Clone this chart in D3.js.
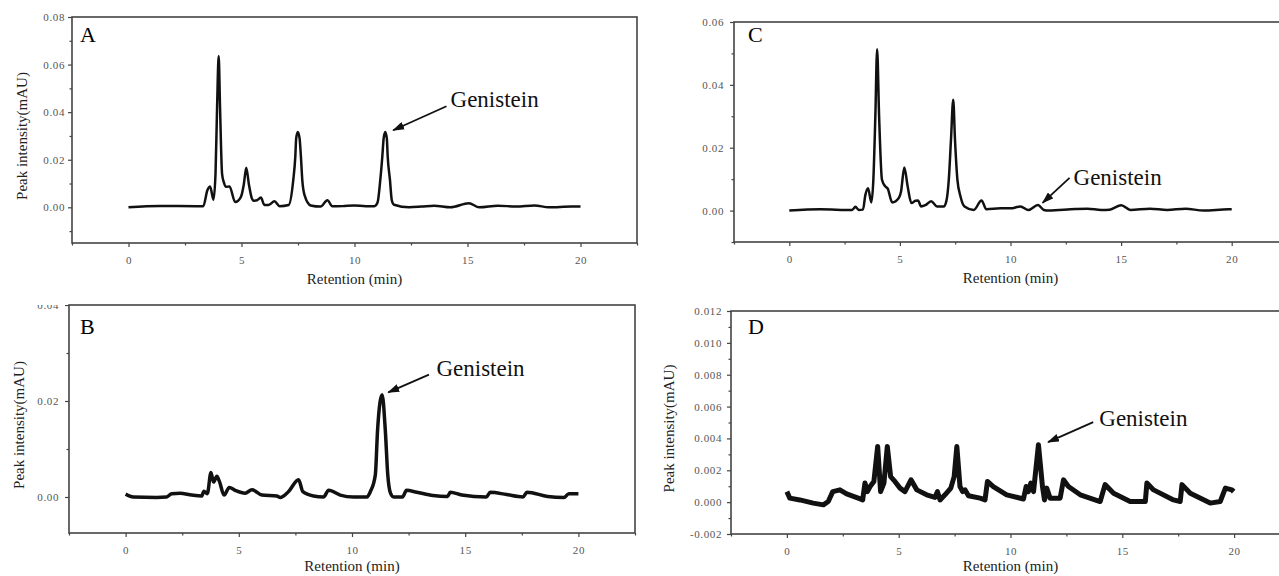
<!DOCTYPE html>
<html>
<head>
<meta charset="utf-8">
<script src="https://cdn.jsdelivr.net/npm/d3@7"></script>
<style>
  body { margin: 0; background: #fff; }
  svg text { font-family: 'Liberation Serif', 'Times New Roman', serif; }
</style>
</head>
<body>
<div id="chart"></div>
<script>
// retention time (min) and peak intensity (mAU)
const timeA = [0, 1.38, 3.01, 3.31, 3.49, 3.61, 3.76, 3.85, 3.92, 3.99, 4.05, 4.14, 4.22, 4.32, 4.47, 4.72, 4.97, 5.1, 5.21, 5.33, 5.45, 5.54, 5.69, 5.86, 6.01, 6.2, 6.46, 6.69, 7.09, 7.29, 7.38, 7.42, 7.49, 7.57, 7.63, 7.69, 7.79, 8.06, 8.5, 8.8, 9.02, 9.47, 9.99, 10.5, 10.88, 11.02, 11.14, 11.23, 11.29, 11.36, 11.43, 11.47, 11.57, 11.65, 11.75, 12.42, 12.97, 13.52, 14.25, 15.06, 15.52, 16.34, 17.15, 17.97, 18.6, 19.6, 20];
const peakA = [0, 0.0006, 0.0005, 0.0005, 0.0072, 0.0088, 0.0032, 0.0141, 0.0422, 0.0636, 0.0422, 0.0141, 0.0105, 0.0086, 0.0088, 0.0022, 0.0043, 0.0095, 0.0166, 0.0095, 0.004, 0.0028, 0.003, 0.0041, 0.001, 0.001, 0.0025, 0.0005, 0.001, 0.0114, 0.0212, 0.029, 0.0317, 0.029, 0.0212, 0.0114, 0.0051, 0.0008, 0.0003, 0.003, 0.0004, 0.0005, 0.0008, 0.0005, 0.0005, 0.002, 0.0114, 0.0212, 0.029, 0.0317, 0.029, 0.0212, 0.0114, 0.003, 0.0011, 0, 0.0003, 0.0007, 0, 0.0017, 0, 0.0007, 0.0003, 0.0008, 0, 0.0003, 0.0003];

const timeB = [0, 0.34, 1.37, 1.81, 2.04, 2.4, 2.92, 3.36, 3.46, 3.61, 3.77, 3.88, 4.03, 4.14, 4.35, 4.58, 4.84, 5.28, 5.58, 6.02, 6.68, 6.83, 7.19, 7.64, 7.83, 8.3, 8.74, 8.97, 9.48, 10.07, 10.66, 10.81, 11.03, 11.13, 11.33, 11.47, 11.58, 11.7, 11.84, 12.23, 12.41, 12.86, 13.58, 14.22, 14.34, 14.85, 15.93, 16.11, 16.83, 17.55, 17.73, 18.64, 19.36, 19.58, 20];
const peakB = [0.0006, 0, -0.0001, 0, 0.0007, 0.0008, 0.0004, 0.0002, 0.0012, 0.0007, 0.0051, 0.0031, 0.0043, 0.0033, 0.0004, 0.002, 0.0014, 0.0008, 0.0015, 0.0004, 0.0002, -0.0001, 0.0011, 0.0036, 0.0011, 0.0002, 0, 0.0014, 0.0004, 0, 0, 0.0011, 0.0046, 0.014, 0.0213, 0.014, 0.0046, 0.0008, 0, 0, 0.0014, 0.001, 0.0003, 0.0001, 0.001, 0.0004, 0, 0.001, 0.0005, 0, 0.001, 0.0001, -0.0001, 0.0007, 0.0007];

const timeC = [0, 1.4, 2.84, 2.99, 3.14, 3.33, 3.44, 3.56, 3.71, 3.8, 3.89, 3.97, 4.06, 4.19, 4.34, 4.45, 4.65, 4.95, 5.05, 5.2, 5.35, 5.52, 5.7, 5.82, 5.96, 6.15, 6.41, 6.68, 6.98, 7.1, 7.21, 7.31, 7.41, 7.49, 7.6, 7.74, 7.92, 8.34, 8.69, 8.91, 9.55, 10.0, 10.45, 10.81, 11.24, 11.51, 11.72, 12.93, 13.48, 14.1, 14.48, 15.01, 15.42, 16.31, 17.08, 17.91, 18.73, 19.85, 20];
const peakC = [0, 0.0004, 0.0002, 0.0012, 0.0002, 0.0003, 0.005, 0.0071, 0.0026, 0.0098, 0.03, 0.0513, 0.03, 0.0098, 0.0077, 0.007, 0.0026, 0.004, 0.006, 0.0137, 0.0077, 0.0024, 0.0031, 0.0032, 0.0013, 0.0017, 0.003, 0.0013, 0.0013, 0.003, 0.0098, 0.0226, 0.0353, 0.0226, 0.0098, 0.0045, 0.0013, 0.0002, 0.0032, 0.0004, 0.0007, 0.0007, 0.0013, 0.0002, 0.0018, 0.0002, 0, 0.0005, 0.0006, 0.0002, 0.0003, 0.0017, 0.0002, 0.0006, 0.0002, 0.0006, 0, 0.0004, 0.0004];

const timeD = [0, 0.13, 0.58, 1.18, 1.63, 1.85, 2.05, 2.37, 2.67, 3.19, 3.39, 3.49, 3.6, 3.72, 3.89, 4.06, 4.19, 4.34, 4.49, 4.64, 4.83, 5.06, 5.28, 5.55, 5.81, 6.25, 6.62, 6.73, 6.85, 7.07, 7.33, 7.48, 7.6, 7.74, 7.86, 7.97, 8.12, 8.64, 8.86, 8.97, 9.23, 9.83, 10.58, 10.7, 10.8, 10.91, 11.03, 11.25, 11.43, 11.52, 11.62, 11.77, 12.22, 12.37, 12.59, 13.12, 14.01, 14.23, 14.61, 15.35, 16.03, 16.1, 16.4, 17.29, 17.59, 17.67, 18.04, 18.93, 19.38, 19.61, 19.9, 19.98];
const peakD = [0.00066, 0.00025, 0.00014, -0.00006, -0.00017, 0.00004, 0.00066, 0.00077, 0.00052, 0.00025, 0.00014, 0.0012, 0.00066, 0.00098, 0.0013, 0.0035, 0.00066, 0.0012, 0.0035, 0.0016, 0.0013, 0.00088, 0.00066, 0.0014, 0.00077, 0.00046, 0.0003, 0.00066, 0.00014, 0.00046, 0.00088, 0.0016, 0.0035, 0.00098, 0.00066, 0.00077, 0.0004, 0.00025, 0.00014, 0.0013, 0.00098, 0.00046, 0.0002, 0.00098, 0.00066, 0.0012, 0.00066, 0.0036, 0.00098, 0.00014, 0.00088, 0.00025, 0.00025, 0.0014, 0.00098, 0.00046, 0.00004, 0.0011, 0.00056, 0.00004, 0.00004, 0.0012, 0.00077, 0.00014, 0.00004, 0.0011, 0.00056, -0.00006, 0.00004, 0.00088, 0.00077, 0.00066];

const xMajor = [0, 5, 10, 15, 20];
const xMinor = [-2.5, 2.5, 7.5, 12.5, 17.5, 22.5];
const xDomain = [-2.5, 22.5];

const panels = [
  { id: 'A', time: timeA, value: peakA, frame: [72, 17, 637, 243],
    yDomain: [-0.015, 0.08], yMajor: [0, 0.02, 0.04, 0.06, 0.08], yMinor: [-0.01, 0.01, 0.03, 0.05, 0.07],
    fmt: '.2f', yPad: 3, width: 2.5, curve: d3.curveMonotoneX, letter: [80, 42], yTitleX: 22,
    note: { tip: [11.71, 0.0324], tail: [14.07, 0.0425], text: [14.25, 0.0421] } },
  { id: 'C', time: timeC, value: peakC, frame: [734, 22, 1287, 242],
    yDomain: [-0.01, 0.06], yMajor: [0, 0.02, 0.04, 0.06], yMinor: [-0.01, 0.01, 0.03, 0.05],
    fmt: '.2f', yPad: 6, width: 2.5, curve: d3.curveMonotoneX, letter: [748, 42], yTitleX: null,
    note: { tip: [11.45, 0.00245], tail: [12.67, 0.0104], text: [12.85, 0.0082] } },
  { id: 'B', time: timeB, value: peakB, frame: [69, 305, 635, 533],
    yDomain: [-0.0075, 0.04], yMajor: [0, 0.02, 0.04], yMinor: [0.01, 0.03],
    fmt: '.2f', yPad: 6, width: 3.5, curve: d3.curveMonotoneX, letter: [80, 334], yTitleX: 19, clipTop: 305,
    note: { tip: [11.6, 0.0218], tail: [13.4, 0.0255], text: [13.73, 0.0253] } },
  { id: 'D', time: timeD, value: peakD, frame: [731, 311, 1290, 534],
    yDomain: [-0.002, 0.012], yMajor: d3.range(-0.002, 0.0121, 0.002), yMinor: d3.range(-0.001, 0.012, 0.002),
    fmt: '.3f', yPad: 5, width: 5, curve: d3.curveLinear, letter: [748, 334], yTitleX: 669,
    note: { tip: [11.68, 0.00377], tail: [13.7, 0.00502], text: [13.97, 0.00477] } }
];

const svg = d3.select('#chart').append('svg')
  .attr('width', 1279)
  .attr('height', 576);

const defs = svg.append('defs');
defs.append('marker')
  .attr('id', 'head')
  .attr('markerUnits', 'userSpaceOnUse')
  .attr('markerWidth', 12).attr('markerHeight', 8)
  .attr('refX', 11).attr('refY', 4)
  .attr('orient', 'auto')
  .append('path')
  .attr('d', 'M0,0 L12,4 L0,8 Z')
  .attr('fill', '#111');

panels.forEach(p => {
  const [x0, y0, x1, y1] = p.frame;
  const x = d3.scaleLinear().domain(xDomain).range([x0, x1]);
  const y = d3.scaleLinear().domain(p.yDomain).range([y1, y0]);
  const fmt = d => d3.format(p.fmt)(d).replace('\u2212', '-');
  const g = svg.append('g');

  // the top label of B is cut by the panel above in the original
  if (p.clipTop) {
    defs.append('clipPath').attr('id', 'clip' + p.id)
      .append('rect')
      .attr('x', -x0).attr('y', p.clipTop)
      .attr('width', x0).attr('height', y1 - p.clipTop + 30);
  }

  const yg = g.append('g')
    .attr('transform', `translate(${x0},0)`)
    .call(d3.axisLeft(y).tickValues(p.yMajor).tickSize(4).tickPadding(p.yPad).tickFormat(fmt));
  if (p.clipTop) yg.attr('clip-path', `url(#clip${p.id})`);
  g.append('g')
    .attr('transform', `translate(${x0},0)`)
    .call(d3.axisLeft(y).tickValues(p.yMinor).tickSize(2.5).tickFormat(''));

  g.append('g')
    .attr('transform', `translate(0,${y1})`)
    .call(d3.axisBottom(x).tickValues(xMajor).tickSize(4).tickPadding(9));
  g.append('g')
    .attr('transform', `translate(0,${y1})`)
    .call(d3.axisBottom(x).tickValues(xMinor).tickSize(2.5).tickFormat(''));

  g.selectAll('.domain').remove();
  g.selectAll('.tick line').attr('stroke', '#444').attr('stroke-width', 1.2);
  g.selectAll('.tick text')
    .attr('fill', '#555')
    .style('font-size', '11px')
    .style('letter-spacing', '0.6px');

  g.append('rect')
    .attr('x', x0).attr('y', y0)
    .attr('width', x1 - x0).attr('height', y1 - y0)
    .attr('fill', 'none')
    .attr('stroke', '#444')
    .attr('stroke-width', 1.6);

  const pts = p.time.map((t, i) => [t, p.value[i]]);
  g.append('path')
    .datum(pts)
    .attr('fill', 'none')
    .attr('stroke', '#111')
    .attr('stroke-width', p.width)
    .attr('stroke-linejoin', 'round')
    .attr('d', d3.line().x(d => x(d[0])).y(d => y(d[1])).curve(p.curve));

  g.append('text')
    .attr('x', p.letter[0]).attr('y', p.letter[1])
    .attr('fill', '#000')
    .style('font-size', '22px')
    .text(p.id);

  g.append('text')
    .attr('x', (x0 + x1) / 2).attr('y', Math.min(y1 + 41, 571))
    .attr('text-anchor', 'middle')
    .attr('fill', '#222')
    .style('font-size', '15px')
    .text('Retention (min)');

  if (p.yTitleX !== null) {
    g.append('text')
      .attr('transform', `translate(${p.yTitleX},${(y0 + y1) / 2 + 6}) rotate(-90)`)
      .attr('text-anchor', 'middle')
      .attr('dy', '0.35em')
      .attr('fill', '#222')
      .style('font-size', '15px')
      .text('Peak intensity(mAU)');
  }

  g.append('line')
    .attr('x1', x(p.note.tail[0])).attr('y1', y(p.note.tail[1]))
    .attr('x2', x(p.note.tip[0])).attr('y2', y(p.note.tip[1]))
    .attr('stroke', '#111')
    .attr('stroke-width', 1.8)
    .attr('marker-end', 'url(#head)');

  g.append('text')
    .attr('x', x(p.note.text[0])).attr('y', y(p.note.text[1]))
    .attr('fill', '#111')
    .style('font-size', '23px')
    .text('Genistein');
});
</script>
</body>
</html>
